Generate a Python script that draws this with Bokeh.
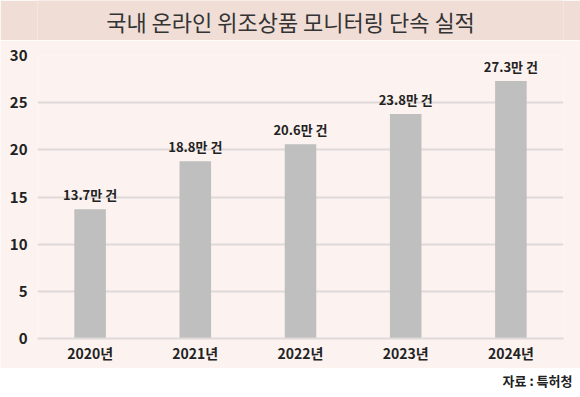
from bokeh.plotting import figure
from bokeh.layouts import column
from bokeh.models import Range1d, Label, ColumnDataSource
from bokeh.core.properties import value
from bokeh.embed import file_html
from bokeh.resources import INLINE

years = ["2020년", "2021년", "2022년", "2023년", "2024년"]
counts = [13.7, 18.8, 20.6, 23.8, 27.3]
y_ticks = [0, 5, 10, 15, 20, 25, 30]
title_text = "국내 온라인 위조상품 모니터링 단속 실적"
source_text = "자료 : 특허청"

FONT = "Noto Sans CJK KR"
W = 580
H_TOP, H_MAIN, H_BOT = 40, 328, 29
BL, BR = 37, 17
PANEL = "#fcf3f0"
BAND = "#efddd6"


def blank(h, color, **kw):
    f = figure(width=W, height=h, x_range=Range1d(0, 1), y_range=Range1d(0, 1),
               x_axis_type=None, y_axis_type=None, output_backend="svg", toolbar_location=None,
               min_border_top=0, min_border_bottom=0, min_border_left=BL, min_border_right=BR, **kw)
    f.grid.visible = False
    f.outline_line_color = None
    f.background_fill_color = color
    f.border_fill_color = color
    return f


# title band
top = blank(H_TOP, BAND)
top.add_layout(Label(x=290 - BL, y=H_TOP - 20, x_units="screen", y_units="screen", text=title_text,
                     text_font=FONT, text_font_size="22px", text_color="#333333",
                     text_align="center", text_baseline="middle"))

# main chart
p = figure(x_range=years, y_range=Range1d(0, 30), width=W, height=H_MAIN,
           output_backend="svg", toolbar_location=None,
           min_border_top=15, min_border_bottom=30, min_border_left=BL, min_border_right=BR)
p.background_fill_color = PANEL
p.border_fill_color = PANEL
p.outline_line_color = None

src = ColumnDataSource(dict(x=years, y=counts, lab=[f"{v}만 건" for v in counts]))
p.vbar(x="x", top="y", width=0.3, source=src, fill_color="#bfbfbf", line_color=None)
p.text(x="x", y="y", text="lab", source=src, text_align="center", text_baseline="bottom",
       y_offset=-5, text_font=value(FONT), text_font_size="13px", text_font_style="bold",
       text_color="#222222")

p.xgrid.grid_line_color = None
p.ygrid.grid_line_color = "#dedad9"
p.ygrid.grid_line_width = 2
p.yaxis.ticker = y_ticks
p.yaxis.axis_line_color = None
p.yaxis.major_tick_line_color = None
p.yaxis.minor_tick_line_color = None
p.yaxis.major_tick_out = 0
p.yaxis.major_tick_in = 0
p.yaxis.minor_tick_out = 0
p.yaxis.major_label_standoff = 10
p.yaxis.major_label_text_font = FONT
p.yaxis.major_label_text_font_size = "15px"
p.yaxis.major_label_text_font_style = "bold"
p.yaxis.major_label_text_color = "#222222"

p.xaxis.axis_line_color = "#dedad9"
p.xaxis.axis_line_width = 2
p.xaxis.major_tick_line_color = None
p.xaxis.minor_tick_line_color = None
p.xaxis.major_tick_out = 0
p.xaxis.major_tick_in = 0
p.xaxis.minor_tick_out = 0
p.xaxis.major_label_standoff = 4
p.xaxis.major_label_text_font = FONT
p.xaxis.major_label_text_font_size = "14px"
p.xaxis.major_label_text_font_style = "bold"
p.xaxis.major_label_text_color = "#222222"

# footer: source shown as the figure title (titles are not clipped to the frame)
bot = blank(H_BOT, "white", title=source_text, title_location="above")
bot.title.align = "right"
bot.title.offset = -9
bot.title.standoff = 0
bot.title.text_font = FONT
bot.title.text_font_size = "13px"
bot.title.text_font_style = "bold"
bot.title.text_color = "#222222"

layout = column(top, p, bot, spacing=0)
open("out.html", "w").write(file_html(layout, INLINE))
